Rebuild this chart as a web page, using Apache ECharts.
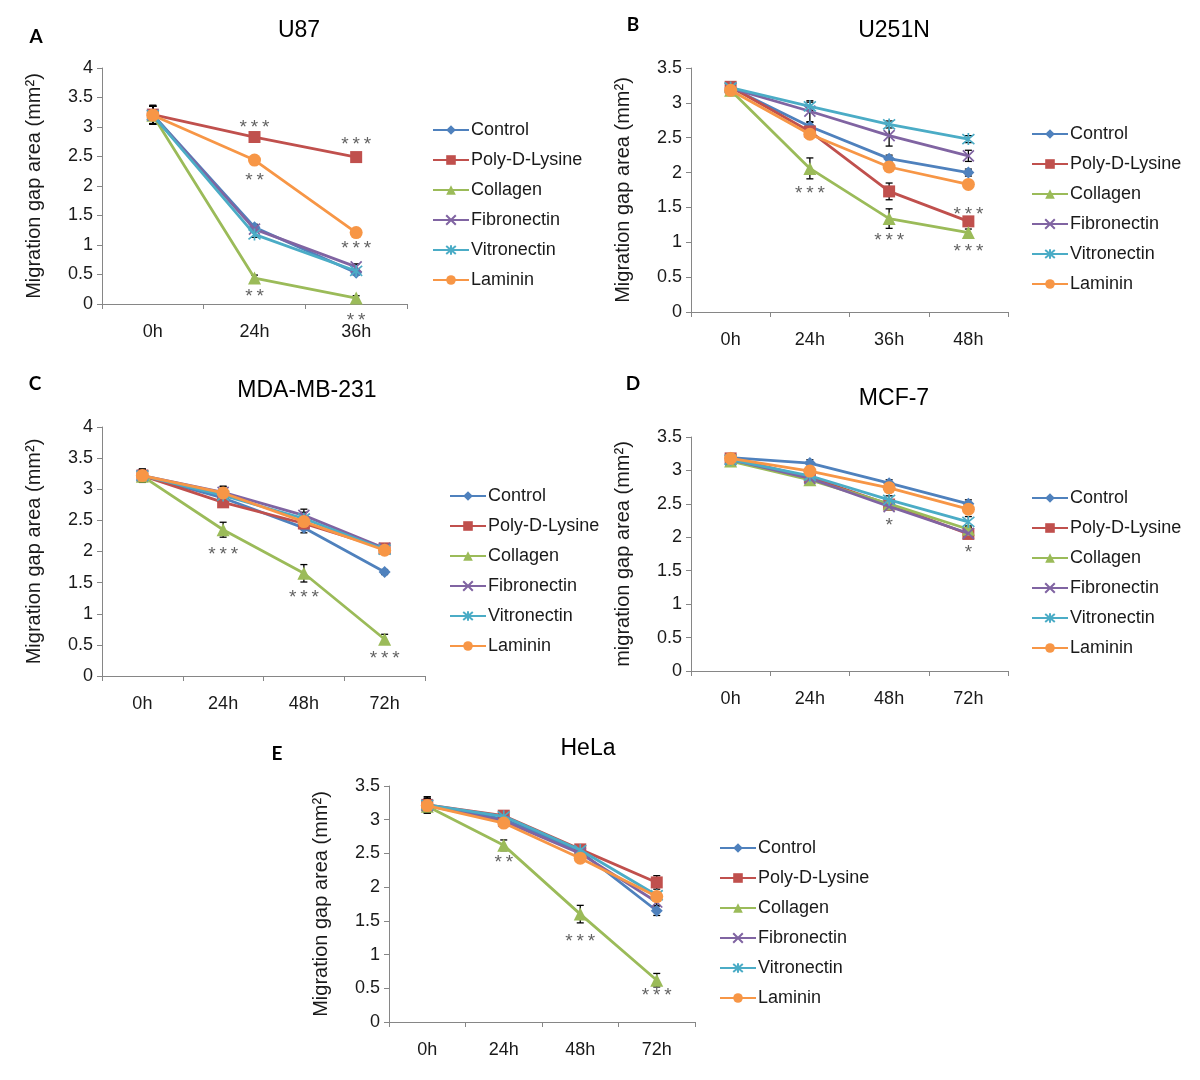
<!DOCTYPE html>
<html><head><meta charset="utf-8">
<script src="https://cdn.jsdelivr.net/npm/echarts@6/dist/echarts.min.js"></script>
<style>html,body{margin:0;padding:0;background:#fff}#c{width:1200px;height:1080px}</style>
</head><body><div id="c"></div>
<script>
// ---------- DATA ----------
const seriesNames = ['Control','Poly-D-Lysine','Collagen','Fibronectin','Vitronectin','Laminin'];

const catsU87   = ['0h','24h','36h'];
const catsU251N = ['0h','24h','36h','48h'];
const catsMDA   = ['0h','24h','48h','72h'];
const catsMCF   = ['0h','24h','48h','72h'];
const catsHeLa  = ['0h','24h','48h','72h'];

// values per series, in seriesNames order
const valsU87 = [
  [3.21, 1.30, 0.53],
  [3.21, 2.83, 2.49],
  [3.20, 0.44, 0.10],
  [3.20, 1.27, 0.63],
  [3.20, 1.18, 0.56],
  [3.20, 2.44, 1.21]
];
const errU87 = [
  [0.16, 0.05, 0.04],
  [0.15, 0.05, 0.05],
  [0.15, 0.05, 0.04],
  [0.15, 0.05, 0.05],
  [0.15, 0.05, 0.04],
  [0.15, 0.05, 0.05]
];
const valsU251N = [
  [3.22, 2.66, 2.20, 2.00],
  [3.23, 2.59, 1.73, 1.30],
  [3.18, 2.06, 1.34, 1.14],
  [3.21, 2.88, 2.53, 2.24],
  [3.22, 2.95, 2.69, 2.48],
  [3.18, 2.55, 2.08, 1.83]
];
const errU251N = [
  [0.04, 0.06, 0.05, 0.05],
  [0.05, 0.06, 0.12, 0.05],
  [0.05, 0.15, 0.14, 0.05],
  [0.04, 0.15, 0.15, 0.08],
  [0.04, 0.06, 0.05, 0.05],
  [0.04, 0.05, 0.05, 0.05]
];
const valsMDA = [
  [3.22, 2.86, 2.38, 1.67],
  [3.22, 2.79, 2.45, 2.05],
  [3.21, 2.35, 1.65, 0.59],
  [3.22, 2.95, 2.58, 2.05],
  [3.22, 2.90, 2.53, 2.03],
  [3.22, 2.94, 2.48, 2.02]
];
const errMDA = [
  [0.10, 0.10, 0.08, 0.04],
  [0.10, 0.08, 0.08, 0.05],
  [0.10, 0.12, 0.14, 0.08],
  [0.10, 0.10, 0.10, 0.05],
  [0.10, 0.10, 0.10, 0.05],
  [0.10, 0.10, 0.10, 0.05]
];
const valsMCF = [
  [3.19, 3.11, 2.81, 2.50],
  [3.18, 2.90, 2.49, 2.05],
  [3.14, 2.86, 2.50, 2.12],
  [3.16, 2.88, 2.46, 2.06],
  [3.16, 2.92, 2.56, 2.23],
  [3.18, 2.99, 2.74, 2.42]
];
const errMCF = [
  [0.05, 0.05, 0.05, 0.06],
  [0.05, 0.05, 0.06, 0.06],
  [0.05, 0.05, 0.05, 0.05],
  [0.05, 0.05, 0.05, 0.05],
  [0.05, 0.05, 0.06, 0.08],
  [0.05, 0.05, 0.05, 0.05]
];
const valsHeLa = [
  [3.22, 3.01, 2.53, 1.65],
  [3.22, 3.06, 2.56, 2.07],
  [3.20, 2.62, 1.60, 0.62],
  [3.21, 2.98, 2.50, 1.78],
  [3.22, 3.05, 2.55, 1.88],
  [3.21, 2.95, 2.43, 1.86]
];
const errHeLa = [
  [0.12, 0.05, 0.05, 0.07],
  [0.12, 0.05, 0.05, 0.10],
  [0.10, 0.08, 0.13, 0.10],
  [0.10, 0.05, 0.05, 0.05],
  [0.10, 0.05, 0.05, 0.05],
  [0.10, 0.05, 0.05, 0.05]
];

// significance annotations: [category index, value, text]
const notesU87  = [[1, 3.07, '***'], [2, 2.78, '***'], [1, 2.17, '**'], [2, 1.02, '***'], [1, 0.20, '**'], [2, -0.20, '**']];
const notesU251N = [[1, 1.77, '***'], [2, 1.09, '***'], [3, 1.46, '***'], [3, 0.94, '***']];
const notesMDA  = [[1, 2.03, '***'], [2, 1.34, '***'], [3, 0.36, '***']];
const notesMCF  = [[2, 2.25, '*'], [3, 1.85, '*']];
const notesHeLa = [[1, 2.43, '**'], [2, 1.26, '***'], [3, 0.47, '***']];

const yMaxTicks = [4, 3.5, 4, 3.5, 3.5];

// ---------- STYLE / LAYOUT ----------
const colors = ['#4F81BD','#C0504D','#9BBB59','#8064A2','#4BACC6','#F79646'];
const symbols = ['diamond','rect','triangle',
  'path://M0,0L10,10M10,0L0,10',
  'path://M0,0L10,10M10,0L0,10M5,-1L5,11',
  'circle'];
const symSizes = [12, 12, 13, 11, 12, 13];
const FONT = '"Liberation Sans", Arial, sans-serif';
const axisGrey = '#868686';
const textCol = '#1a1a1a';

const panels = [
  {title:'U87', letter:'A', cats:catsU87, vals:valsU87, errs:errU87, notes:notesU87,
   grid:{left:102, top:68, width:305, height:236}, titlePos:[299,31], letterPos:[36,37],
   legend:[432,121], yName:'Migration gap area (mm\u00B2)'},
  {title:'U251N', letter:'B', cats:catsU251N, vals:valsU251N, errs:errU251N, notes:notesU251N,
   grid:{left:691, top:68, width:317, height:244}, titlePos:[894,31], letterPos:[633,25],
   legend:[1031,125], yName:'Migration gap area (mm\u00B2)'},
  {title:'MDA-MB-231', letter:'C', cats:catsMDA, vals:valsMDA, errs:errMDA, notes:notesMDA,
   grid:{left:102, top:427, width:323, height:249}, titlePos:[307,391], letterPos:[35,384],
   legend:[449,487], yName:'Migration gap area (mm\u00B2)'},
  {title:'MCF-7', letter:'D', cats:catsMCF, vals:valsMCF, errs:errMCF, notes:notesMCF,
   grid:{left:691, top:437, width:317, height:234}, titlePos:[894,399], letterPos:[633,384],
   legend:[1031,489], yName:'migration gap area (mm\u00B2)'},
  {title:'HeLa', letter:'E', cats:catsHeLa, vals:valsHeLa, errs:errHeLa, notes:notesHeLa,
   grid:{left:389, top:786, width:306, height:236}, titlePos:[588,749], letterPos:[277,754],
   legend:[719,839], yName:'Migration gap area (mm\u00B2)'}
];

// ---------- BUILD ----------
const grids = [], xAxes = [], yAxes = [], legends = [], series = [], graphics = [];

function errRender(params, api) {
  const lo = api.coord([api.value(0), api.value(1)]);
  const hi = api.coord([api.value(0), api.value(2)]);
  const w = 3.5;
  const st = {stroke:'#000', lineWidth:1.3};
  return {type:'group', children:[
    {type:'line', shape:{x1:lo[0], y1:lo[1], x2:hi[0], y2:hi[1]}, style:st},
    {type:'line', shape:{x1:lo[0]-w, y1:lo[1], x2:lo[0]+w, y2:lo[1]}, style:st},
    {type:'line', shape:{x1:hi[0]-w, y1:hi[1], x2:hi[0]+w, y2:hi[1]}, style:st}
  ]};
}

panels.forEach((p, i) => {
  grids.push(Object.assign({containLabel:false}, p.grid));
  xAxes.push({
    type:'category', gridIndex:i, data:p.cats, boundaryGap:true,
    axisLine:{show:true, lineStyle:{color:axisGrey, width:1}},
    axisTick:{show:true, length:5, lineStyle:{color:axisGrey}},
    axisLabel:{fontSize:18, color:textCol, margin:19, fontFamily:FONT},
    splitLine:{show:false}
  });
  yAxes.push({
    type:'value', gridIndex:i, min:0, max:yMaxTicks[i], interval:0.5,
    axisLine:{show:true, lineStyle:{color:axisGrey, width:1}},
    axisTick:{show:true, length:5, lineStyle:{color:axisGrey}},
    axisLabel:{fontSize:18, color:textCol, margin:9, fontFamily:FONT},
    splitLine:{show:false},
    name:p.yName, nameLocation:'middle', nameGap:58, nameRotate:90,
    nameTextStyle:{fontSize:20, color:textCol, fontFamily:FONT}
  });
  legends.push({
    data:seriesNames, orient:'vertical', left:p.legend[0], top:p.legend[1],
    padding:0, itemWidth:36, itemHeight:12, itemGap:12, selectedMode:false,
    textStyle:{fontSize:18, color:textCol, fontFamily:FONT, padding:[0,0,0,-3]}
  });
  // error bars (drawn beneath markers)
  const errData = [];
  p.vals.forEach((arr, s) => arr.forEach((v, k) => {
    errData.push([k, v - p.errs[s][k], v + p.errs[s][k]]);
  }));
  series.push({
    type:'custom', xAxisIndex:i, yAxisIndex:i, renderItem:errRender,
    data:errData, encode:{x:0, y:[1,2]}, z:1, silent:true
  });
  p.vals.forEach((arr, s) => {
    const stroked = (s === 3 || s === 4);
    series.push({
      type:'line', name:seriesNames[s], xAxisIndex:i, yAxisIndex:i, data:arr,
      symbol:symbols[s], symbolSize: symSizes[s], showSymbol:true,
      lineStyle:{color:colors[s], width:2.8},
      itemStyle:{color:colors[s], borderColor:colors[s], borderWidth: stroked ? 1.7 : 0},
      z:2 + s, animation:false
    });
  });
  series.push({
    type:'scatter', xAxisIndex:i, yAxisIndex:i, clip:false, silent:true,
    symbolSize:1, itemStyle:{color:'rgba(0,0,0,0)'},
    data:p.notes.map(n => ({value:[n[0], n[1]], label:{formatter:n[2].split('').join('\u2009')}})),
    label:{show:true, position:'inside', fontSize:19, color:'#3a3a3a', fontFamily:FONT, offset:[0,5]},
    z:20
  });
  graphics.push({type:'text', x:p.titlePos[0], y:p.titlePos[1],
    style:{text:p.title, font:'23px ' + FONT, fill:'#000', textAlign:'center', textVerticalAlign:'middle'}});
  graphics.push({type:'text', x:p.letterPos[0], y:p.letterPos[1],
    style:{text:p.letter, font:'bold 19px Lato, "Open Sans", sans-serif', fill:'#000', textAlign:'center', textVerticalAlign:'middle'}});
});

const chart = echarts.init(document.getElementById('c'), null, {renderer:'canvas'});
chart.setOption({
  animation:false,
  backgroundColor:'#fff',
  textStyle:{fontFamily:FONT},
  grid:grids, xAxis:xAxes, yAxis:yAxes, legend:legends, series:series, graphic:graphics
});
</script></body></html>
